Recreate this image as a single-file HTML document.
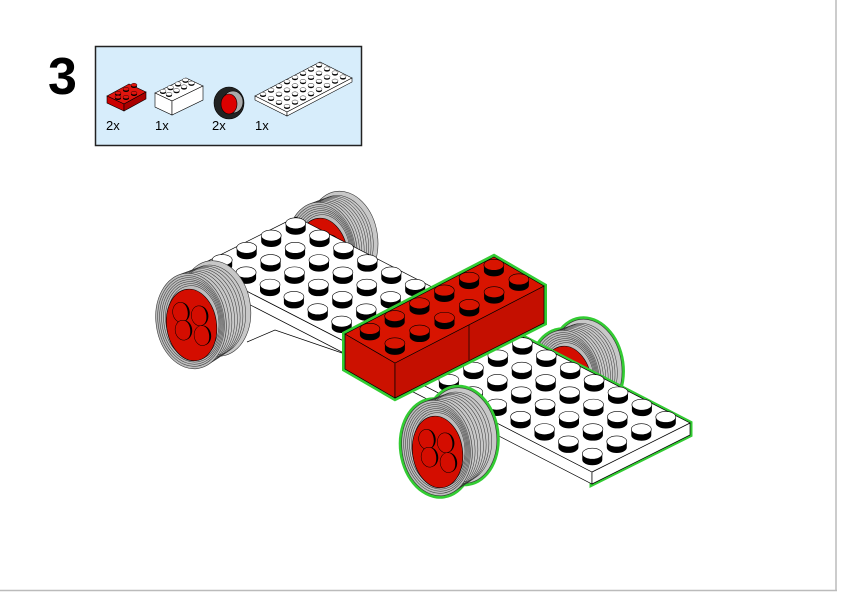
<!DOCTYPE html>
<html><head><meta charset="utf-8"><style>
html,body{margin:0;padding:0;background:#fff;}
body{width:842px;height:596px;overflow:hidden;position:relative;font-family:"Liberation Sans",sans-serif;}
</style></head><body>
<svg id="s" width="842" height="596" viewBox="0 0 842 596" xmlns="http://www.w3.org/2000/svg">
<line x1="836" y1="0" x2="836" y2="591" stroke="#bbb" stroke-width="1.5"/>
<line x1="0" y1="590.5" x2="837" y2="590.5" stroke="#bbb" stroke-width="1.5"/>
<text x="48" y="94" font-family="Liberation Sans" font-weight="bold" font-size="52">3</text>
<rect x="95.5" y="46.5" width="266" height="99" fill="#d7edfb" stroke="#222" stroke-width="1.5"/>
<g stroke="#000" stroke-width="0.6">
<polygon points="107,96 129,84 146,92 124,104" fill="#e0150e"/>
<polygon points="107,96 124,104 124,111 107,103" fill="#c00"/>
<polygon points="124,104 146,92 146,99 124,111" fill="#a00"/>
<polygon points="155,93 186,78 203,86 172,101" fill="#fff"/>
<polygon points="155,93 172,101 172,115 155,107" fill="#fff"/>
<polygon points="172,101 203,86 203,100 172,115" fill="#fff"/>
<polygon points="255,96 320,62 352,78 287,112" fill="#fff"/>
<polygon points="255,96 287,112 287,116 255,100" fill="#fff"/>
<polygon points="287,112 352,78 352,82 287,116" fill="#fff"/>
<ellipse cx="229" cy="103" rx="15" ry="16" fill="#222"/>
<ellipse cx="233" cy="102" rx="10" ry="11" fill="#aaa"/>
<ellipse cx="229" cy="104" rx="8" ry="10" fill="#d00"/>
</g>
<g id="parts"></g>
<g font-size="13" font-family="Liberation Sans">
<text x="106" y="130">2x</text><text x="155" y="130">1x</text><text x="212" y="130">2x</text><text x="255" y="130">1x</text>
</g>
<g id="model"></g>
</svg>
<script>
var NS="http://www.w3.org/2000/svg";
function el(p,t,a){var e=document.createElementNS(NS,t);for(var k in a)e.setAttribute(k,a[k]);p.appendChild(e);return e;}
var P=document.getElementById('parts');
function miniStud(x,y,f){el(P,'ellipse',{cx:x,cy:y+1.2,rx:3,ry:1.8,fill:'#000'});el(P,'ellipse',{cx:x,cy:y,rx:3,ry:1.8,fill:f,stroke:'#000','stroke-width':0.4});}
miniStud(118,93,'#e0150e');miniStud(126,89,'#e0150e');miniStud(134,85,'#e0150e');
miniStud(126,97,'#e0150e');miniStud(134,93,'#e0150e');miniStud(118,101-4,'#e0150e');
for(var b=0;b<4;b++){miniStud(163+b*7.5,91-b*3.7,'#fff');miniStud(169+b*7.5,94-b*3.7,'#fff');}
for(var i=0;i<4;i++)for(var j=0;j<8;j++){miniStud(263+j*8+i*8,94-j*4.2+i*4,'#fff');}
var M=document.getElementById('model');
function poly(g,pts,f,extra){var a={points:pts.map(function(p){return p.join(',')}).join(' '),fill:f,stroke:'#000','stroke-width':0.7};for(var k in extra)a[k]=extra[k];return el(g,'polygon',a);}
function stud(g,x,y,f){el(g,'path',{d:'M'+(x-10)+','+y+' v6 a10,5.5 0 0 0 20,0 v-6 z',fill:'#000'});el(g,'ellipse',{cx:x,cy:y,rx:10,ry:5.5,fill:f,stroke:'#000','stroke-width':0.6});}
function wheel(g,cx,cy,dx,dy,rot,green){
  var t=el(g,'g',{transform:'rotate('+rot+' '+cx+' '+cy+')'});
  if(green){el(t,'ellipse',{cx:cx+dx,cy:cy+dy,rx:38,ry:51,fill:'#3c3'});el(t,'ellipse',{cx:cx,cy:cy,rx:38,ry:51,fill:'#3c3'});}
  el(t,'ellipse',{cx:cx+dx,cy:cy+dy,rx:35,ry:48,fill:'#c8c8c8',stroke:'#333','stroke-width':0.6});
  for(var k=1;k<8;k++){var f=k/8;el(t,'ellipse',{cx:cx+dx*f,cy:cy+dy*f,rx:35-k*0.3,ry:48-k*0.4,fill:'none',stroke:'#333','stroke-width':0.5});}
  el(t,'ellipse',{cx:cx,cy:cy,rx:35,ry:48,fill:'#bdbdbd',stroke:'#333','stroke-width':0.6});
  for(var r=33;r>25;r-=1.5)el(t,'ellipse',{cx:cx+(33-r)*0.3,cy:cy,rx:r,ry:r*1.38,fill:'none',stroke:'#333','stroke-width':0.5});
  el(t,'ellipse',{cx:cx,cy:cy+4,rx:25,ry:36,fill:'#d40d00',stroke:'#000','stroke-width':0.6});
  [[-9,-10],[9,-4],[-9,8],[9,16]].forEach(function(o){var x=cx+o[0],y=cy+o[1];
    el(t,'ellipse',{cx:x,cy:y,rx:8,ry:10,fill:'#d40d00',stroke:'#000','stroke-width':0.5});
    el(t,'path',{d:'M'+(x+1)+','+(y-10)+' a8,10 0 0 1 0,20 a6,10 0 0 0 0,-20z',fill:'#000'});});
}
function add(p,q,s){return [p[0]+q[0]*s,p[1]+q[1]*s];}
var back=el(M,'g',{});
wheel(back,322,250,22,-8,-8,false);
var gb=el(M,'g',{});
wheel(gb,566,378,22,-8,-8,true);
var u=[23.9,12.3],v=[24.5,-12.25];
var L=[198,266];
var A=L,B=add(L,u,8),C=add(B,v,4),D=add(L,v,4);
poly(M,[A,B,[B[0],B[1]+12],[A[0],A[1]+12]],'#fff');
poly(M,[A,B,C,D],'#fff');
el(M,'polyline',{points:'247,342 275,330 345,354',fill:'none',stroke:'#000','stroke-width':0.7});
for(var j=0;j<8;j++)for(var i=3;i>=0;i--){var c=add(add(L,u,j+0.5),v,i+0.5);stud(M,c[0],c[1]-6,'#fff');}
var G=el(M,'g',{});
var FN=[592,472],FR=[690,423],FL=add(FN,u,-8),FB=add(FR,u,-8);
poly(G,[FL,FN,[FN[0],FN[1]+12],[FR[0],FR[1]+12],FR,FB],'#fff',{stroke:'#3c3','stroke-width':5});
poly(G,[FL,FN,[FN[0],FN[1]+12],[FL[0],FL[1]+12]],'#fff');
poly(G,[FN,FR,[FR[0],FR[1]+12],[FN[0],FN[1]+12]],'#fff');
poly(G,[FL,FN,FR,FB],'#fff');
for(var j=0;j<8;j++)for(var i=3;i>=0;i--){var c=add(add(FL,u,j+0.5),v,i+0.5);stud(G,c[0],c[1]-6,'#fff');}
var R=el(M,'g',{});
var rl=[345,334],rn=[395,363],rr=[544,286],rb=[494,257];
poly(R,[rl,rb,rr,[544,323],[395,398],[345,369]],'#3c3',{stroke:'#3c3','stroke-width':6});
poly(R,[rl,rn,[395,398],[345,369]],'#cc1100');
poly(R,[rn,rr,[544,323],[395,398]],'#c40f00');
poly(R,[rl,rn,rr,rb],'#d81400');
el(R,'line',{x1:469,y1:325,x2:469,y2:360,stroke:'#000','stroke-width':0.7});
var ra=[25,14.5],rv=[24.8,-12.8];
for(var b=0;b<6;b++)for(var a=0;a<2;a++){var c=add(add(rl,ra,a+0.5),rv,b+0.5);stud(R,c[0],c[1]-6,'#d81400');}
wheel(M,191,321,26,-9,-8,false);
wheel(M,437,448,26,-9,-8,true);
</script>
</body></html>
